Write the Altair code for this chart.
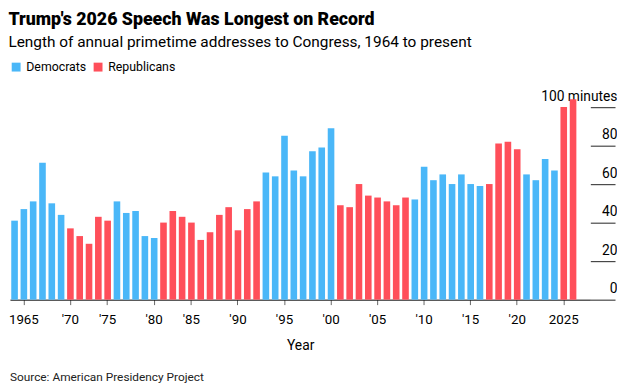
import altair as alt
import pandas as pd

years = ["1964", "1965", "1966", "1967", "1968", "1969", "1970", "1971", "1972",
         "1974", "1975", "1976", "1977", "1978", "1979", "1980",
         "1982", "1983", "1984", "1985", "1986", "1987", "1988", "1989", "1990",
         "1991", "1992", "1993", "1994", "1995", "1996", "1997", "1998", "1999",
         "2000", "2001", "2002", "2003", "2004", "2005", "2006", "2007", "2008",
         "2009", "2010", "2011", "2012", "2013", "2014", "2015", "2016", "2017",
         "2018", "2019", "2020", "2021", "2022", "2023", "2024", "2025", "2026"]

minutes = [41, 47, 51, 71, 50, 44, 37, 33, 29,
           43, 41, 51, 45, 46, 33, 32,
           40, 46, 43, 40, 31, 35, 44, 48, 36,
           47, 51, 66, 64, 85, 67, 64, 77, 79,
           89, 49, 48, 60, 54, 53, 51, 49, 53,
           52, 69, 62, 65, 60, 65, 60, 59, 60,
           81, 82, 78, 65, 62, 73, 67, 100, 104]

D, R = "Democrats", "Republicans"
party = [D] * 6 + [R] * 5 + [D] * 5 + [R] * 11 + [D] * 8 + [R] * 8 + [D] * 8 + [R] * 4 + [D] * 4 + [R] * 2

tick_years = ["1965", "1970", "1975", "1980", "1985", "1990", "1995", "2000",
              "2005", "2010", "2015", "2020", "2025"]
y_ticks = [0, 20, 40, 60, 80, 100]

parties = [D, R]
colors = ["#4ab7f8", "#ff4f5a"]

title_text = "Trump's 2026 Speech Was Longest on Record"
subtitle_text = "Length of annual primetime addresses to Congress, 1964 to present"
source_text = "Source: American Presidency Project"

df = pd.DataFrame({"year": years, "minutes": minutes, "party": party})

FONT = "Roboto"

bars = alt.Chart(df).mark_bar().encode(
    x=alt.X(
        "year:O",
        sort=years,
        scale=alt.Scale(paddingInner=0.29, paddingOuter=0.82, align=0.084),
        axis=alt.Axis(
            values=tick_years,
            labelExpr="(datum.value == '1965' || datum.value == '2025') ? datum.value : \"'\" + substring(datum.value, 2, 4)",
            labelAngle=0,
            labelFontSize=13.5,
            labelColor="#000",
            labelFont=FONT,
            labelPadding=8,
            tickSize=5,
            tickColor="#666",
            domainColor="#000",
            domainWidth=1,
            title="Year",
            titleFont=FONT,
            titleFontSize=14,
            titleFontWeight="normal",
            titleColor="#000",
            titlePadding=13,
        ),
    ),
    y=alt.Y(
        "minutes:Q",
        scale=alt.Scale(domain=[0, 105], nice=False),
        axis=alt.Axis(
            orient="right",
            values=y_ticks,
            labelExpr="datum.value == 100 ? '100 minutes' : datum.label",
            domain=False,
            grid=False,
            tickSize=25,
            tickColor="#222",
            labelAlign="right",
            labelPadding=2,
            labelBaseline="alphabetic",
            labelOffset=-7,
            labelFontSize=14,
            labelFont=FONT,
            labelColor="#000",
            title=None,
        ),
    ),
    color=alt.Color(
        "party:N",
        scale=alt.Scale(domain=parties, range=colors),
        legend=alt.Legend(
            orient="none",
            legendX=0,
            legendY=-37,
            direction="horizontal",
            title=None,
            symbolType="square",
            symbolSize=81,
            symbolStrokeWidth=0,
            labelFontSize=12.5,
            labelFont=FONT,
            labelColor="#000",
            labelOffset=4,
            columnPadding=5,
            padding=0,
        ),
    ),
)

source = alt.Chart(pd.DataFrame({"t": [source_text]})).mark_text(
    align="left", baseline="middle", fontSize=12, font=FONT, color="#222"
).encode(text="t:N", x=alt.value(0), y=alt.value(283))

chart = alt.layer(bars, source).properties(
    width=588,
    height=205,
    padding={"left": 0, "top": 0, "right": 0, "bottom": 4},
    title=alt.TitleParams(
        text=title_text,
        subtitle=subtitle_text,
        anchor="start",
        font=FONT,
        fontSize=18,
        fontWeight=900,
        color="#000",
        subtitleFont=FONT,
        subtitleFontSize=15.6,
        subtitleColor="#000",
        subtitlePadding=7,
        offset=10,
    ),
).configure_view(stroke=None)

chart.save("out.html", embed_options={"renderer": "svg", "actions": False})
